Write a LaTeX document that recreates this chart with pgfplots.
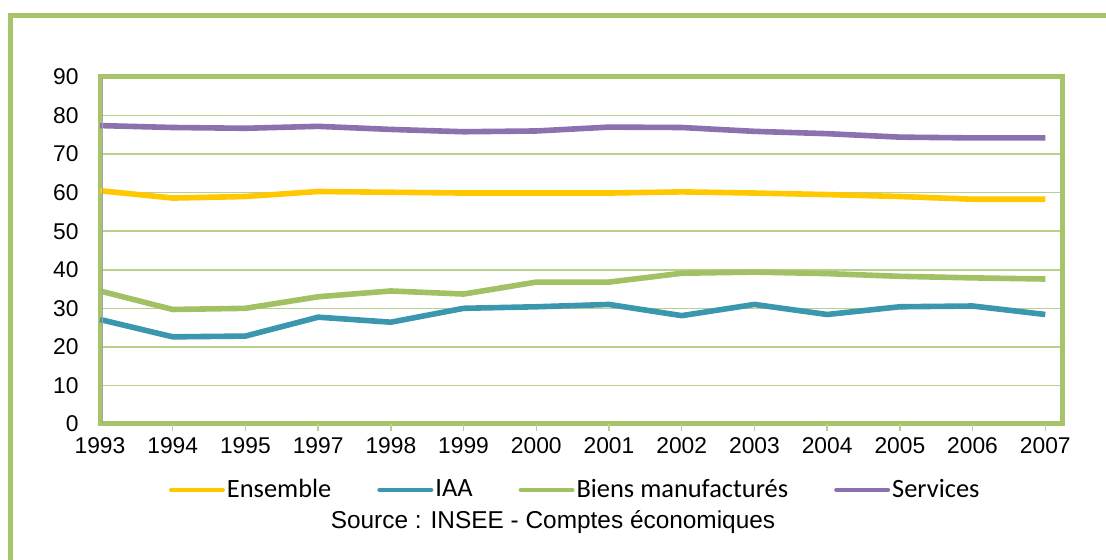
\documentclass[border=0pt]{standalone}
\usepackage{fontspec}
\setmainfont{Liberation Sans}
\newfontfamily\carlito{Carlito}
\usepackage{pgfplots}
\pgfplotsset{compat=1.18}
\usepackage{pgfplotstable}

\definecolor{frame}{HTML}{A8C46B}
\definecolor{gridc}{HTML}{BAD08E}
\definecolor{ensemble}{HTML}{FFC800}
\definecolor{iaa}{HTML}{3A97AE}
\definecolor{biens}{HTML}{A2C164}
\definecolor{services}{HTML}{8B72AE}

% x = 0..13 : 1993,1994,1995,1997,...,2007 (pas de 1996)
\pgfplotstableread{
x ensemble iaa biens services
0  60.5 27.1 34.5 77.4
1  58.6 22.6 29.7 76.9
2  59.0 22.8 30.0 76.7
3  60.3 27.7 33.0 77.2
4  60.1 26.4 34.5 76.4
5  59.9 30.0 33.7 75.8
6  59.9 30.4 36.8 76.0
7  59.9 31.0 36.8 77.0
8  60.2 28.1 39.1 76.9
9  59.9 31.0 39.4 75.9
10 59.5 28.4 39.0 75.3
11 59.0 30.4 38.3 74.4
12 58.3 30.6 37.9 74.2
13 58.3 28.4 37.6 74.2
}\datatable

\begin{document}
\begin{tikzpicture}
\useasboundingbox (0,0) rectangle (553pt,-280pt);
% cadre exterieur (seuls les bords gauche et haut sont visibles)
\draw[frame, line width=2.5pt] (5.25pt,-285pt) -- (5.25pt,-7.75pt) -- (560pt,-7.75pt);

\begin{axis}[
    at={(50pt,-38.5pt)}, anchor=north west,
    scale only axis,
    width=481pt, height=173.5pt,
    xmin=0, xmax=13.23,
    ymin=0, ymax=90,
    ytick={0,10,...,90},
    xtick=data,
    xticklabels={1993,1994,1995,1997,1998,1999,2000,2001,2002,2003,2004,2005,2006,2007},
    ymajorgrids=true,
    grid style={gridc, line width=0.75pt},
    axis line style={frame, line width=2.5pt},
    xtick pos=bottom, ytick pos=left,
    major tick length=0pt,
    /pgf/number format/assume math mode=true,
    tick label style={font=\fontsize{11.4}{13}\selectfont, inner sep=0pt},
    y tick label style={anchor=east, xshift=-10.5pt},
    x tick label style={anchor=north, yshift=-6.5pt},
    legend columns=4,
    legend style={at={(0.494,-0.19)}, anchor=center, draw=none, fill=none,
        font=\carlito\fontsize{13.2}{15}\selectfont,
        nodes={inner sep=1pt},
        /tikz/every even column/.append style={column sep=22pt}},
    legend image code/.code={\draw[#1, line width=2pt, line cap=round] (0,0) -- (26pt,0);},
    every axis plot/.append style={line width=2.8pt, line join=round, no marks},
    clip=false,
]
\addplot[ensemble] table[x=x, y=ensemble] {\datatable};
\addplot[iaa] table[x=x, y=iaa] {\datatable};
\addplot[biens] table[x=x, y=biens] {\datatable};
\addplot[services] table[x=x, y=services] {\datatable};
\legend{Ensemble, IAA, Biens manufacturés, Services}
% petites graduations sous l'axe des x et trait gris a gauche
\foreach \i in {1,...,13} {
  \edef\tmp{\noexpand\draw[gridc, line width=0.75pt] (axis cs:\i,0) -- ++(0,-3.5pt);}
  \tmp
}
\draw[gray!70, line width=0.8pt] ([xshift=1.2pt]rel axis cs:0,0) -- ([xshift=1.2pt]rel axis cs:0,1);
\end{axis}

\node[font=\fontsize{12.2}{14}\selectfont, anchor=center] at (276.5pt,-261pt) {Source : INSEE - Comptes économiques};
\end{tikzpicture}
\end{document}
